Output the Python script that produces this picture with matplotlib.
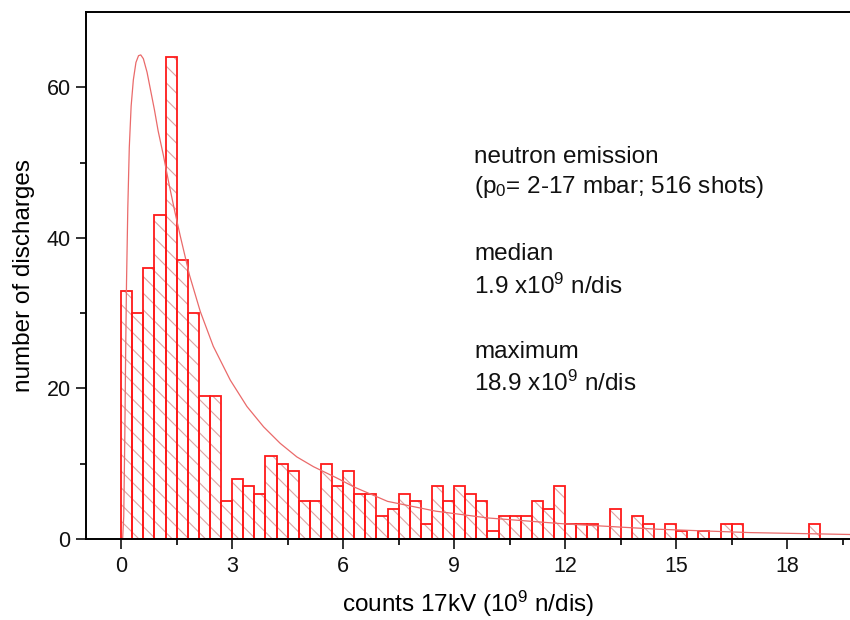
import matplotlib
matplotlib.use("Agg")
import matplotlib.pyplot as plt
import numpy as np

# histogram: bins of 0.3 x 10^9 n/dis, starting at 0
bin_width = 0.3
counts = [33, 30, 36, 43, 64, 37, 30, 19, 19, 5,
          8, 7, 6, 11, 10, 9, 5, 5, 10, 7,
          9, 6, 6, 3, 4, 6, 5, 2, 7, 5,
          7, 6, 5, 1, 3, 3, 3, 5, 4, 7,
          2, 2, 2, 0, 4, 0, 3, 2, 0, 2,
          1, 0, 1, 0, 2, 2, 0, 0, 0, 0,
          0, 0, 2]

# fitted distribution curve
fit_x = [0.04, 0.07, 0.10, 0.12, 0.145, 0.18, 0.22, 0.27, 0.33, 0.40, 0.47,
         0.53, 0.60, 0.70, 0.80, 0.90, 1.00, 1.14, 1.30, 1.45, 1.60, 1.85,
         2.14, 2.49, 2.95, 3.40, 3.85, 4.30, 4.75, 5.20, 5.83, 6.30, 7.20,
         8.50, 9.90, 12.0, 14.5, 17.0, 19.7]
fit_y = [0.0, 3.0, 14.0, 24.0, 34.0, 44.0, 52.0, 57.5, 61.0, 63.3, 64.2,
         64.3, 63.8, 62.0, 59.5, 57.0, 54.2, 51.0, 47.0, 43.5, 40.2, 35.0,
         30.2, 25.6, 21.1, 17.6, 14.9, 12.7, 10.9, 9.6, 8.1, 6.9, 5.0,
         3.7, 2.8, 2.0, 1.3, 0.85, 0.6]

info_lines = [
    ("neutron emission", 157),
    (r"(p$_\mathrm{0}$= 2-17 mbar; 516 shots)", 187),
    ("median", 254),
    (r"1.9 x10$^\mathrm{9}$ n/dis", 286),
    ("maximum", 352),
    (r"18.9 x10$^\mathrm{9}$ n/dis", 383),
]

plt.rcParams["font.family"] = ["Liberation Sans", "DejaVu Sans"]
plt.rcParams["mathtext.fontset"] = "custom"
plt.rcParams["mathtext.rm"] = "Liberation Sans"
plt.rcParams["mathtext.it"] = "Liberation Sans:italic"
plt.rcParams["hatch.linewidth"] = 0.8

W, H = 850, 620
fig = plt.figure(figsize=(W / 100, H / 100), dpi=100)
ax = fig.add_axes([86 / W, 81 / H, 1 - 86 / W, (539 - 12) / H])

edges = np.arange(len(counts)) * bin_width
# hatching layer (lighter colour), then red outlines on top
ax.bar(edges, counts, width=bin_width, align="edge", fill=False,
       hatch="\\\\", edgecolor="#dca4a4", linewidth=0.01)
ax.bar(edges, counts, width=bin_width, align="edge", fill=False,
       edgecolor="#ff1a1a", linewidth=1.3)

ax.plot(fit_x, fit_y, color="#ea6a6a", linewidth=0.9)

ax.set_xlim(-0.95, 19.7)
ax.set_ylim(0, 70)
ax.set_xticks(np.arange(0, 19, 3))
ax.set_xticks(np.arange(0, 21, 1.5), minor=True)
ax.set_yticks([0, 20, 40, 60])
ax.set_yticks([10, 30, 50], minor=True)
ax.tick_params(axis="both", which="major", direction="out", length=7,
               width=1.2, labelsize=15.5, colors="#111111")
ax.tick_params(axis="both", which="minor", direction="out", length=4,
               width=1.2)
ax.tick_params(axis="x", pad=5)
ax.tick_params(axis="y", pad=4)
for side in ("left", "bottom", "top"):
    ax.spines[side].set_linewidth(1.4)
ax.spines["right"].set_visible(False)

ax.set_xlabel(r"counts 17kV (10$^\mathrm{9}$ n/dis)", fontsize=17.5, labelpad=9)
ax.set_ylabel("number of discharges", fontsize=17.5, labelpad=8)

for text, py in info_lines:
    fig.text(474 / W, 1 - py / H, text, fontsize=17.5, va="center",
             ha="left", color="#111111")

fig.savefig("out.png", dpi=100)
